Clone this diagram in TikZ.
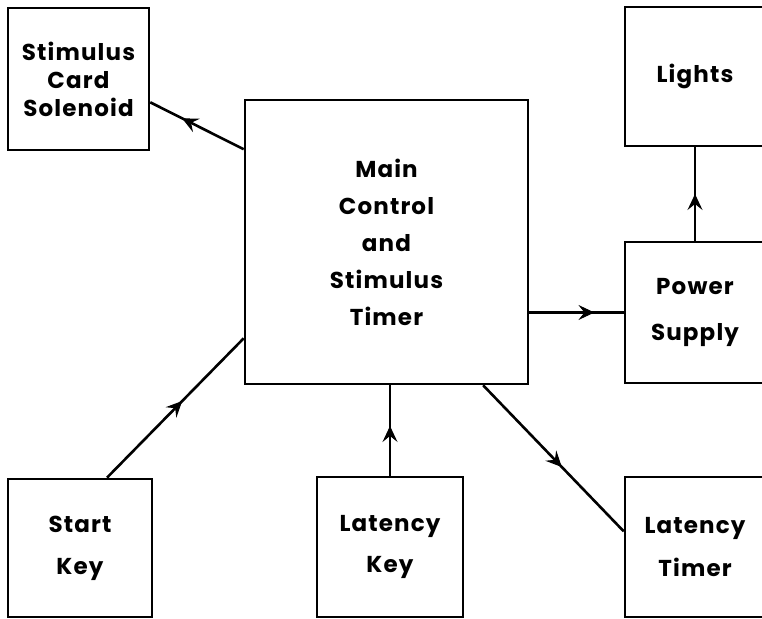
\documentclass[tikz,border=0pt]{standalone}
\usepackage{fontspec}
\setmainfont{Poppins}[LetterSpace=5]
\usepackage{tikz}
\usetikzlibrary{arrows.meta,positioning,calc,decorations.markings}
\tikzset{
  blk/.style={draw,line width=2.6pt,align=center,inner sep=0pt},
  txt/.style={font=\fontsize{23}{#1}\selectfont\bfseries},
  wire/.style={line width=2.6pt},
  midarrow/.style={postaction={decorate},decoration={markings,
    mark=at position #1 with {\arrow{Stealth[length=16pt,width=15pt,inset=6pt,line width=1pt]}}}}
}
\begin{document}
\begin{tikzpicture}[x=1pt,y=-1pt]
        \useasboundingbox (0,0) rectangle (762,618);
        \clip (0,0) rectangle (762,618);
        \node[blk,txt=28,minimum width=141,minimum height=142] (stim) at (78.5,79)
          {Stimulus\\Card\\Solenoid};
        \node[blk,txt=37,minimum width=283,minimum height=284] (main) at (386.5,242)
          {Main\\Control\\and\\Stimulus\\Timer};
        \node[blk,txt=28,minimum width=140,minimum height=139] (lights) at (695,76.5) {Lights};
        \node[blk,txt=46,minimum width=140,minimum height=141] (power) at (695,312.5)
          {Power\\Supply};
        \node[blk,txt=42,minimum width=144,minimum height=138] (start) at (80,548) {Start\\Key};
        \node[blk,txt=41,minimum width=146,minimum height=140] (lkey) at (390,547)
          {Latency\\Key};
        \node[blk,txt=43,minimum width=140,minimum height=140] (ltimer) at (695,547)
          {Latency\\Timer};
        % connectors
        \draw[wire,midarrow=0.66] (main.147) -- (stim.-18);
        \draw[wire,midarrow=0.55] (start.69) -- (main.214);
        \draw[wire,midarrow=0.55] (lkey.north) -- (lkey.north |- main.south);
        \draw[wire,midarrow=0.56] (main.-56)
          -- ($(ltimer.north west)!0.39!(ltimer.south west)$);
        \draw[wire,midarrow=0.69] (main.east |- power.west) -- (power.west);
        \draw[wire,midarrow=0.5] (power.north) -- (lights.south);
      \end{tikzpicture}
\end{document}
